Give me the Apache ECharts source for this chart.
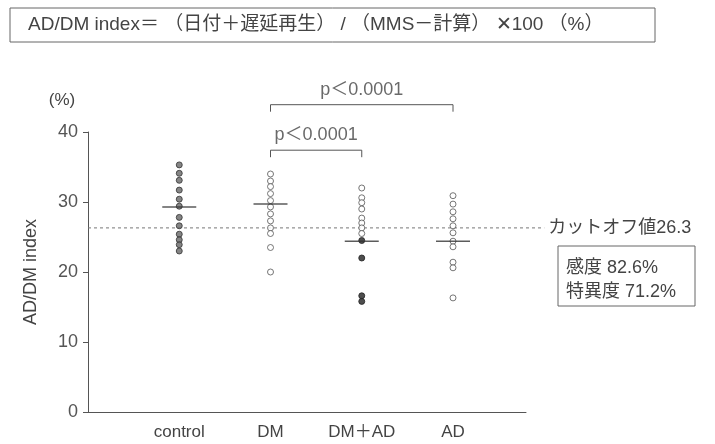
<!DOCTYPE html>
<html>
<head>
<meta charset="utf-8">
<script src="https://cdn.jsdelivr.net/npm/echarts@6/dist/echarts.min.js"></script>
<style>
  html, body { margin: 0; padding: 0; background: #fff; }
  #chart { width: 715px; height: 444px; }
</style>
</head>
<body>
<div id="chart"></div>
<script>
// データ
const categories = ['control', 'DM', 'DM＋AD', 'AD'];
const controlVals = [35.3, 34.1, 33.1, 31.7, 30.4, 29.4, 27.8, 26.6, 25.4, 24.6, 23.9, 23.0];
const dmVals = [34.0, 33.0, 32.2, 31.2, 30.2, 29.3, 28.3, 27.3, 26.3, 25.5, 23.5, 20.0];
const dmadOpenVals = [32.0, 30.6, 29.9, 29.0, 27.7, 27.0, 26.3, 25.5];
const dmadFilledVals = [24.5, 22.0, 16.6, 15.8];
const adVals = [30.9, 29.7, 28.6, 27.6, 26.6, 25.6, 24.4, 23.6, 21.4, 20.6, 16.3];
const meanVals = [29.3, 29.7, 24.4, 24.4];
const cutoff = 26.3;
const yTicks = [0, 10, 20, 30, 40];
// 有意差 [from, to, level]
const brackets = [
  [2, 3, 37.4, 'p＜0.0001'],
  [2, 4, 43.9, 'p＜0.0001']
];

const font = '"Liberation Sans", "Noto Sans CJK JP", sans-serif';
const ink = '#444';

// x位置は群の番号 1..4
const pts = (x, vals) => vals.map(v => [x, v]);

const openDot = { color: '#fff', borderColor: '#555', borderWidth: 1 };
const darkDot = { color: '#666', borderColor: '#333', borderWidth: 1 };

const series = [
  { type: 'scatter', data: pts(1, controlVals), symbol: 'circle', symbolSize: 6, itemStyle: darkDot },
  { type: 'scatter', data: pts(2, dmVals), symbol: 'circle', symbolSize: 6, itemStyle: openDot },
  { type: 'scatter', data: pts(3, dmadOpenVals), symbol: 'circle', symbolSize: 6, itemStyle: openDot },
  { type: 'scatter', data: pts(3, dmadFilledVals), symbol: 'circle', symbolSize: 6, itemStyle: { color: '#222', borderColor: '#222', borderWidth: 1 } },
  { type: 'scatter', data: pts(4, adVals), symbol: 'circle', symbolSize: 6, itemStyle: openDot },
  {
    type: 'scatter',
    data: meanVals.map((v, i) => [i + 1, v]),
    symbol: 'rect',
    symbolSize: [34, 1.5],
    itemStyle: { color: '#333' },
    z: 3
  }
];

brackets.forEach(b => {
  const [a, c, lvl, txt] = b;
  series.push({
    type: 'line',
    data: [[a, lvl - 1], [a, lvl], [c, lvl], [c, lvl - 1]],
    symbol: 'none',
    clip: false,
    silent: true,
    lineStyle: { color: '#555', width: 1 }
  });
  series.push({
    type: 'scatter',
    data: [[(a + c) / 2, lvl]],
    symbolSize: 0,
    clip: false,
    silent: true,
    label: {
      show: true,
      position: 'top',
      distance: 6,
      formatter: txt,
      color: ink,
      fontFamily: font,
      fontSize: 18
    }
  });
});

const chart = echarts.init(document.getElementById('chart'));
chart.setOption({
  animation: false,
  backgroundColor: '#fff',
  grid: { left: 88, right: 189, top: 132, bottom: 32, containLabel: false },
  xAxis: {
    type: 'value',
    min: 0,
    max: 4.8,
    interval: 1,
    splitLine: { show: false },
    axisTick: { show: false },
    axisLine: { show: true, lineStyle: { color: '#555', width: 1 } },
    axisLabel: {
      showMaxLabel: false,
      margin: 12,
      color: ink,
      fontFamily: font,
      fontSize: 17,
      formatter: v => categories[v - 1] || ''
    }
  },
  yAxis: {
    type: 'value',
    min: yTicks[0],
    max: yTicks[yTicks.length - 1],
    interval: 10,
    name: 'AD/DM index',
    nameLocation: 'middle',
    nameGap: 48,
    nameTextStyle: { color: ink, fontFamily: font, fontSize: 18 },
    splitLine: { show: false },
    axisLine: { show: true, lineStyle: { color: '#555', width: 1 } },
    axisTick: { show: true, length: 5, lineStyle: { color: '#555' } },
    axisLabel: { color: '#555', fontFamily: font, fontSize: 18, margin: 10 }
  },
  graphic: [
    {
      type: 'rect',
      shape: { x: 10, y: 8, width: 645, height: 34 },
      style: { fill: 'none', stroke: '#666', lineWidth: 1 }
    },
    {
      type: 'text',
      x: 28, y: 25,
      style: {
        text: 'AD/DM index＝ （日付＋遅延再生） / （MMS－計算） ✕100 （%）',
        fill: ink, font: '19px ' + font, verticalAlign: 'middle'
      }
    },
    {
      type: 'text',
      x: 62, y: 100,
      style: { text: '(%)', fill: ink, font: '17px ' + font, align: 'center', verticalAlign: 'middle' }
    },
    {
      type: 'rect',
      shape: { x: 558, y: 246, width: 137, height: 60 },
      style: { fill: 'none', stroke: '#666', lineWidth: 1 }
    },
    {
      type: 'text',
      x: 566, y: 268,
      style: { text: '感度 82.6%', fill: ink, font: '18px ' + font, verticalAlign: 'middle' }
    },
    {
      type: 'text',
      x: 566, y: 292,
      style: { text: '特異度 71.2%', fill: ink, font: '18px ' + font, verticalAlign: 'middle' }
    }
  ],
  series: series
});

// カットオフ線 (軸の右端より少し先まで伸ばす)
const p0 = chart.convertToPixel({ gridIndex: 0 }, [0, cutoff]);
const p1 = chart.convertToPixel({ gridIndex: 0 }, [5.0, cutoff]);
chart.setOption({
  graphic: [
    {
      id: 'cutLine',
      type: 'line',
      shape: { x1: p0[0], y1: p0[1], x2: p1[0], y2: p1[1] },
      style: { stroke: '#777', lineWidth: 1, lineDash: [3, 3] },
      z: 1
    },
    {
      id: 'cutLabel',
      type: 'text',
      x: p1[0] + 4, y: p1[1],
      style: { text: 'カットオフ値' + cutoff, fill: ink, font: '18px ' + font, verticalAlign: 'middle' }
    }
  ]
});
</script>
</body>
</html>
